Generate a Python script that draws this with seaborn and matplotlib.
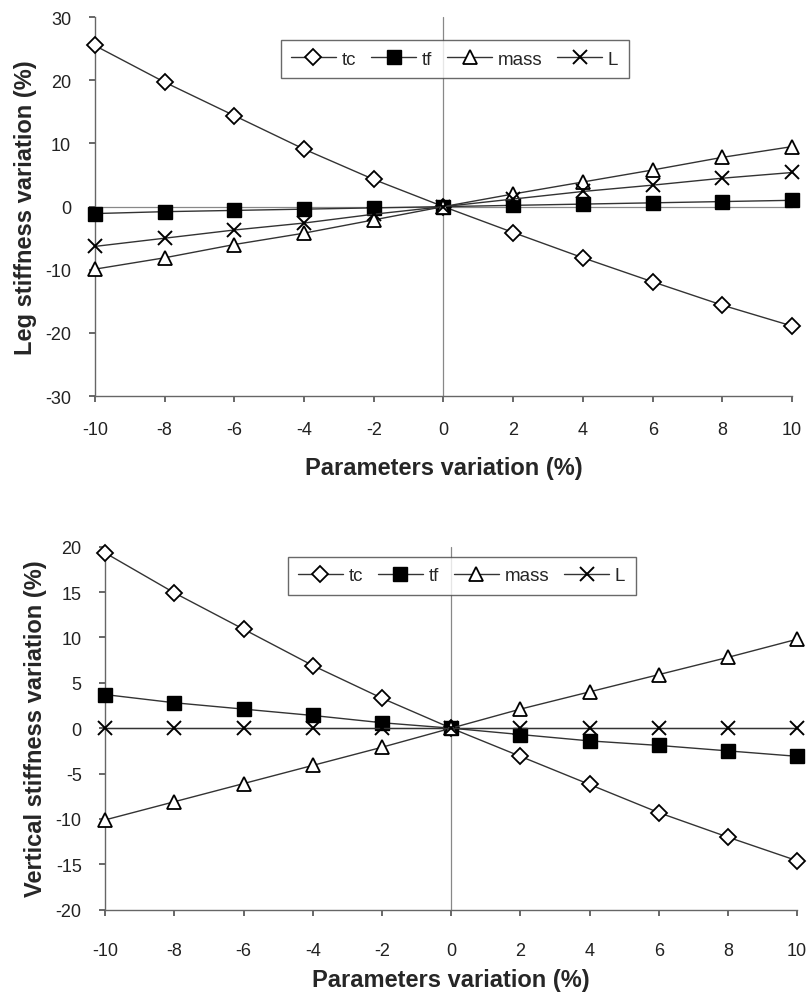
import matplotlib
matplotlib.use("Agg")
import matplotlib.pyplot as plt
import seaborn as sns
import pandas as pd

x_vals = [-10, -8, -6, -4, -2, 0, 2, 4, 6, 8, 10]

# Top panel: Leg stiffness variation (%)
leg_tc = [25.5, 19.7, 14.4, 9.1, 4.3, 0, -4.1, -8.1, -11.9, -15.6, -18.9]
leg_tf = [-1.1, -0.8, -0.6, -0.4, -0.2, 0, 0.2, 0.4, 0.6, 0.8, 1.0]
leg_mass = [-9.9, -8.1, -6.0, -4.2, -2.1, 0, 2.0, 3.9, 5.8, 7.8, 9.5]
leg_L = [-6.3, -5.0, -3.7, -2.6, -1.2, 0, 1.2, 2.4, 3.4, 4.5, 5.4]

# Bottom panel: Vertical stiffness variation (%)
vert_tc = [19.3, 14.9, 10.9, 6.9, 3.3, 0, -3.1, -6.2, -9.3, -12.0, -14.6]
vert_tf = [3.7, 2.8, 2.1, 1.4, 0.6, 0, -0.7, -1.4, -1.9, -2.5, -3.1]
vert_mass = [-10.1, -8.1, -6.1, -4.1, -2.1, 0, 2.1, 4.0, 5.9, 7.8, 9.8]
vert_L = [0, 0, 0, 0, 0, 0, 0, 0, 0, 0, 0]

series_names = ["tc", "tf", "mass", "L"]
x_label = "Parameters variation (%)"
y_label_top = "Leg stiffness variation (%)"
y_label_bot = "Vertical stiffness variation (%)"

sns.set_theme(style="ticks")
plt.rcParams["font.family"] = ["Liberation Sans", "DejaVu Sans"]
plt.rcParams["axes.unicode_minus"] = False

styles = {
    "tc": dict(marker="D", markerfacecolor="white", markeredgecolor="black", markersize=8, markeredgewidth=1.3),
    "tf": dict(marker="s", markerfacecolor="black", markeredgecolor="black", markersize=9.5, markeredgewidth=1.0),
    "mass": dict(marker="^", markerfacecolor="white", markeredgecolor="black", markersize=10, markeredgewidth=1.3),
    "L": dict(marker="x", markerfacecolor="black", markeredgecolor="black", markersize=10, markeredgewidth=1.4),
}

fig = plt.figure(figsize=(8.1, 10.03), dpi=100)
ax1 = fig.add_axes([0.117, 0.604, 0.861, 0.378])
ax2 = fig.add_axes([0.130, 0.092, 0.854, 0.362])


def draw(ax, data, ylim, yticks, ylabel, legend_anchor, xpad, xlabelpad):
    df = pd.DataFrame({"x": x_vals})
    for name, vals in zip(series_names, data):
        df[name] = vals
    ax.axhline(0, color="#888888", lw=0.9, zorder=1)
    ax.axvline(0, color="#888888", lw=0.9, zorder=1)
    for name in series_names:
        sns.lineplot(data=df, x="x", y=name, ax=ax, color="#333333", lw=1.0,
                     label=name, zorder=3, **styles[name])
    ax.set_xlim(-10, 10)
    ax.set_ylim(*ylim)
    ax.set_xticks(x_vals)
    ax.set_yticks(yticks)
    ax.tick_params(axis="both", labelsize=13, length=4, color="#555555",
                   labelcolor="#222222")
    ax.tick_params(axis="x", pad=xpad)
    ax.tick_params(axis="y", pad=13)
    for sp in ["top", "right"]:
        ax.spines[sp].set_visible(False)
    for sp in ["left", "bottom"]:
        ax.spines[sp].set_color("#666666")
        ax.spines[sp].set_linewidth(1.0)
    ax.set_xlabel(x_label, fontsize=17, fontweight="bold", labelpad=xlabelpad)
    ax.set_ylabel(ylabel, fontsize=17, fontweight="bold", labelpad=6)
    ax.set_facecolor("white")
    for l in ax.lines:
        l.set_clip_on(False)
    leg = ax.legend(loc="center", bbox_to_anchor=legend_anchor, ncol=4, frameon=True,
                    fancybox=False, edgecolor="#444444", fontsize=13.5, handlelength=2.4,
                    columnspacing=0.8, handletextpad=0.3, borderpad=0.55)
    leg.get_frame().set_linewidth(1.0)


draw(ax1, [leg_tc, leg_tf, leg_mass, leg_L], (-30, 30), [-30, -20, -10, 0, 10, 20, 30],
     y_label_top, (0.516, 0.889), 14, 13)
draw(ax2, [vert_tc, vert_tf, vert_mass, vert_L], (-20, 20), [-20, -15, -10, -5, 0, 5, 10, 15, 20],
     y_label_bot, (0.515, 0.92), 19, 7)

fig.savefig("out.png", dpi=100, facecolor="white")
